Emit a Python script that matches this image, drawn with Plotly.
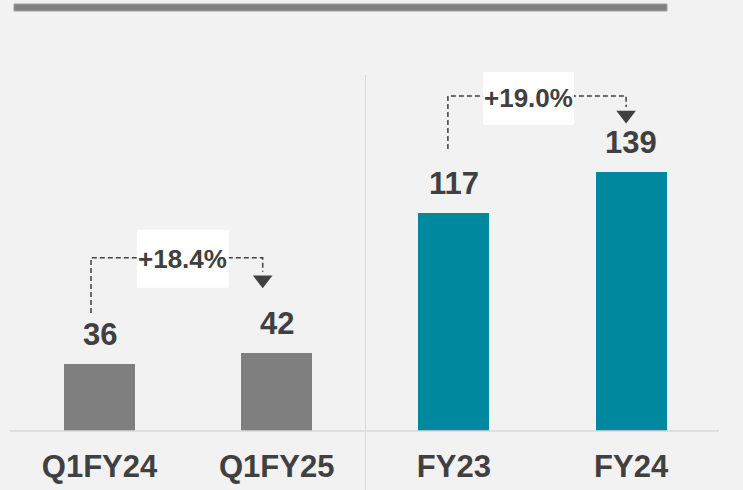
import plotly.graph_objects as go

# ---- data ----
categories = ["Q1FY24", "Q1FY25", "FY23", "FY24"]
values = [36, 42, 117, 139]
growth_pairs = [(0, 1), (2, 3)]
growth_labels = ["+18.4%", "+19.0%"]

# ---- style ----
GRAY = "#7f7f7f"
TEAL = "#00889f"
TEXT = "#404040"
BG = "#f2f2f2"
FONT = "Liberation Sans, Arial, sans-serif"
bar_colors = [GRAY, GRAY, TEAL, TEAL]

W, H = 743, 490
MB = 59  # bottom margin (space for category labels)
PX_PER_X = 177.2
PX_PER_Y = 1.864
X0_PX = 99.5
PLOT_H = H - MB
x_range = [-X0_PX / PX_PER_X, (W - X0_PX) / PX_PER_X]
y_range = [0, PLOT_H / PX_PER_Y]

def dx(px):
    return px / PX_PER_X

def dy(px):
    return px / PX_PER_Y

fig = go.Figure()
fig.add_trace(go.Bar(
    x=list(range(len(categories))), y=values, width=0.40,
    marker=dict(color=bar_colors, line=dict(width=0)),
    hoverinfo="skip", showlegend=False,
))

annotations = []
for i, v in enumerate(values):
    annotations.append(dict(
        x=i, y=v, xref="x", yref="y", text=f"<b>{v}</b>", showarrow=False,
        yanchor="bottom", yshift=10,
        font=dict(family=FONT, size=31, color=TEXT),
    ))

# connector layout (pixel offsets relative to bars / bar tops)
conn_layout = [
    dict(lx=-8.5, rx=-14, start_gap=51, top_gap=95, tip_gap=66, box_dx=6, box_w=92, box_h=58, box_dy=-1),
    dict(lx=-6, rx=-5, start_gap=64, top_gap=76, tip_gap=50, box_dx=-8.5, box_w=91, box_h=53, box_dy=-2.5),
]
shapes = []
for (a, b), lab, cl in zip(growth_pairs, growth_labels, conn_layout):
    va, vb = values[a], values[b]
    xl = a + dx(cl["lx"])
    xr = b + dx(cl["rx"])
    y_start = va + dy(cl["start_gap"])
    y_top = vb + dy(cl["top_gap"])
    y_tip = vb + dy(cl["tip_gap"])
    # dashed connector
    fig.add_trace(go.Scatter(
        x=[xl, xl, xr, xr], y=[y_start, y_top, y_top, y_tip + dy(15)],
        mode="lines", line=dict(color=TEXT, width=1.5, dash="5px,3px"),
        hoverinfo="skip", showlegend=False,
    ))
    # arrow head
    fig.add_trace(go.Scatter(
        x=[xr], y=[y_tip + dy(7)], mode="markers",
        marker=dict(symbol="triangle-down", size=17, color=TEXT, line=dict(width=0)),
        hoverinfo="skip", showlegend=False,
    ))
    # white box + label
    xm = (xl + xr) / 2 + dx(cl["box_dx"])
    ym = y_top + dy(cl["box_dy"])
    bx0, bx1 = xm - dx(cl["box_w"] / 2), xm + dx(cl["box_w"] / 2)
    shapes.append(dict(
        type="rect", xref="x", yref="y",
        x0=bx0, x1=bx1, y0=ym - dy(cl["box_h"] / 2), y1=ym + dy(cl["box_h"] / 2),
        fillcolor="white", line=dict(width=0), layer="above",
    ))
    annotations.append(dict(
        x=xm, y=ym, xref="x", yref="y", text=f"<b>{lab}</b>",
        showarrow=False, font=dict(family=FONT, size=26, color=TEXT),
    ))

# top thick rule
shapes.append(dict(
    type="rect", xref="paper", yref="paper",
    x0=14 / W, x1=667 / W, y0=(PLOT_H - 11) / PLOT_H, y1=(PLOT_H - 4) / PLOT_H,
    fillcolor="#808080", line=dict(color="#a0a0a0", width=1),
))
# baseline
shapes.append(dict(
    type="line", xref="paper", yref="paper",
    x0=10 / W, x1=719 / W, y0=0, y1=0,
    line=dict(color="#d9d9d9", width=1.5),
))
# vertical divider
shapes.append(dict(
    type="line", xref="paper", yref="paper",
    x0=365.5 / W, x1=365.5 / W, y0=-MB / PLOT_H, y1=(PLOT_H - 75) / PLOT_H,
    line=dict(color="#d9d9d9", width=1),
))

fig.update_layout(
    width=W, height=H,
    margin=dict(l=0, r=0, t=0, b=MB),
    paper_bgcolor=BG, plot_bgcolor=BG,
    bargap=0, hovermode=False,
    shapes=shapes, annotations=annotations,
    xaxis=dict(
        range=x_range, tickvals=list(range(len(categories))),
        ticktext=[f"<b>{c}</b>" for c in categories],
        tickfont=dict(family=FONT, size=31, color=TEXT),
        showgrid=False, zeroline=False, showline=False, ticks="",
        ticklabelstandoff=14, fixedrange=True,
    ),
    yaxis=dict(range=y_range, visible=False, showgrid=False, zeroline=False, fixedrange=True),
)

fig.write_html(
    "out.html",
    config={"displayModeBar": False, "staticPlot": True},
    post_script="document.body.style.margin='0';document.body.style.overflow='hidden';",
)
